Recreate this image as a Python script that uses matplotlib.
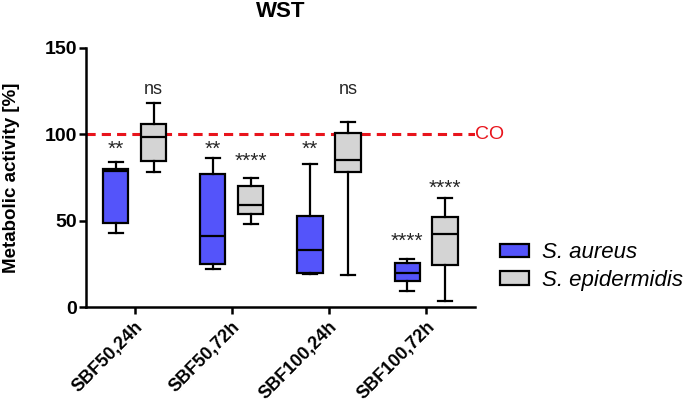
import matplotlib.pyplot as plt
import matplotlib.patches as mpatches
import numpy as np

plt.rcParams['font.family'] = ['Liberation Sans', 'DejaVu Sans']

groups = ['SBF50,24h', 'SBF50,72h', 'SBF100,24h', 'SBF100,72h']
species = ['S. aureus', 'S. epidermidis']
colors = ['#5454fa', '#d4d4d4']

# box stats: whisker low, q1, median, q3, whisker high
aureus_lo = [43, 22, 19, 9.5]
aureus_q1 = [48.5, 25, 19.5, 15]
aureus_med = [79, 41, 33, 20]
aureus_q3 = [80, 77, 53, 25.5]
aureus_hi = [84, 86, 83, 28]

epi_lo = [78, 48, 18.5, 3.3]
epi_q1 = [84.7, 54, 78.4, 24.3]
epi_med = [98.3, 59, 85, 42.3]
epi_q3 = [106, 70, 101, 52.3]
epi_hi = [118, 75, 107, 63]

aureus_sig = ['**', '**', '**', '****']
epi_sig = ['ns', '****', 'ns', '****']
aureus_sig_y = [88, 88, 88, 35]
epi_sig_y = [123.5, 81, 123.5, 65.7]

fig = plt.figure(figsize=(6.85, 4.09), dpi=100)
ax = fig.add_axes([0.1255, 0.249, 0.5675, 0.634])

def stats(lo, q1, med, q3, hi):
    return [{'whislo': a, 'q1': b, 'med': c, 'q3': d, 'whishi': e, 'fliers': []}
            for a, b, c, d, e in zip(lo, q1, med, q3, hi)]

x = np.arange(len(groups))
off = 0.195
w = 0.26
sets = [stats(aureus_lo, aureus_q1, aureus_med, aureus_q3, aureus_hi),
        stats(epi_lo, epi_q1, epi_med, epi_q3, epi_hi)]
for i, st in enumerate(sets):
    pos = x + (-off if i == 0 else off)
    ax.bxp(st, positions=pos, widths=w, patch_artist=True, showfliers=False,
           boxprops=dict(facecolor=colors[i], edgecolor='black', linewidth=1.6),
           medianprops=dict(color='black', linewidth=1.6),
           whiskerprops=dict(color='black', linewidth=1.6),
           capprops=dict(color='black', linewidth=1.6),
           capwidths=w * 0.55)

def sig_text(xp, yp, s):
    size = 13 if s == 'ns' else 15
    ax.text(xp, yp, s, ha='center', va='baseline', fontsize=size, color='#262626')

for i in range(len(groups)):
    sig_text(x[i] - off, aureus_sig_y[i], aureus_sig[i])
    sig_text(x[i] + off, epi_sig_y[i], epi_sig[i])

ax.axhline(100, color='#e8141c', linestyle=(0, (3, 2)), linewidth=2.2, zorder=0)
ax.text(1.002, 100, 'CO', transform=ax.get_yaxis_transform(), color='#e8141c',
        fontsize=14, va='center', ha='left')

ax.set_xlim(-0.5, 3.5)
ax.set_ylim(0, 150)
ax.set_yticks([0, 50, 100, 150])
ax.set_xticks(x)
ax.set_xticklabels(groups, rotation=45, ha='right', rotation_mode='anchor',
                   fontweight='bold', fontsize=13)
for lab in ax.get_yticklabels():
    lab.set_fontweight('bold')
    lab.set_fontsize(14)
ax.spines['top'].set_visible(False)
ax.spines['right'].set_visible(False)
for s in ['left', 'bottom']:
    ax.spines[s].set_linewidth(1.8)
ax.tick_params(width=1.8, length=5)
ax.tick_params(axis='y', pad=1.5)
ax.tick_params(axis='x', pad=3)
ax.set_ylabel('Metabolic activity [%]', fontweight='bold', fontsize=13.5)
ax.yaxis.set_label_coords(-0.17, 0.5)
ax.set_title('WST', fontweight='bold', fontsize=16, pad=22)

handles = [mpatches.Patch(facecolor=c, edgecolor='black', linewidth=1.6) for c in colors]
fig.legend(handles, species, loc='upper left', bbox_to_anchor=(0.730, 0.408),
           frameon=False, prop={'style': 'italic', 'size': 16},
           borderpad=0, borderaxespad=0,
           handlelength=1.3, handleheight=0.55, handletextpad=0.6, labelspacing=0.3)

fig.savefig('out.png', dpi=100)
